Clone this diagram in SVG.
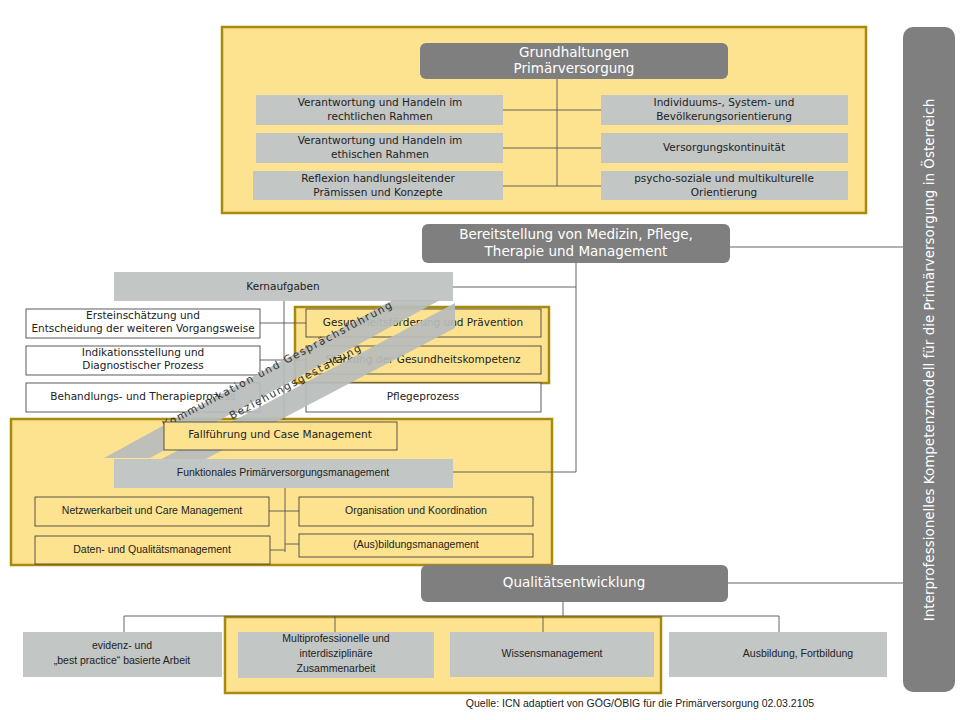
<svg xmlns="http://www.w3.org/2000/svg" width="960" height="720" viewBox="0 0 960 720">
<style>
text{font-family:"DejaVu Sans","Liberation Sans",sans-serif;font-size:10.5px;fill:#222;text-anchor:middle;dominant-baseline:middle}
.panel{fill:#FDE28F;stroke:#A88A0F;stroke-width:2.5}
.dk{fill:#7F7F7F}
.dkt{fill:#fff;font-size:13.5px}
.gr{fill:#C2C6C5}
.wb{fill:#fff;stroke:#333;stroke-width:0.8}
.yb{fill:#FDE28F;stroke:#333;stroke-width:0.8}
.ln{stroke:#555;stroke-width:0.9;fill:none}
.cond{font-family:"Liberation Sans",sans-serif;font-stretch:condensed}
</style>
<rect width="960" height="720" fill="#fff"/>
<g id="panels">
<rect class="panel" x="222" y="27" width="644" height="186"/>
<rect class="panel" x="295" y="307" width="254" height="76"/>
<rect class="panel" x="11" y="419" width="541" height="146"/>
<rect class="panel" x="225" y="617" width="436" height="76"/>
</g>
<g id="connectors">
<path class="ln" d="M557 79V186M503 110H601M503 148H601M503 186H601"/>
<path class="ln" d="M730 247H903M728 583H903"/>
<path class="ln" d="M576 263V472H453M453 287H576"/>
<path class="ln" d="M284 301V420M260 323H306M260 360H306"/>
<path class="ln" d="M285 488V552M269 511H299M270 550H285M285 544H299"/>
<path class="ln" d="M563 602V616M124 616H779M124 616V632M335 616V632M543 616V632M779 616V632"/>
</g>
<g id="grundhaltungen">
<rect class="dk" x="420" y="43" width="308" height="36" rx="6"/>
<text class="dkt" x="574" y="53">Grundhaltungen</text>
<text class="dkt" x="574" y="69">Primärversorgung</text>
</g>
<g id="g1"><rect class="gr" x="256" y="95" width="247" height="30"/><text x="380" y="103">Verantwortung und Handeln im</text><text x="380" y="117">rechtlichen Rahmen</text></g>
<g id="g2"><rect class="gr" x="256" y="133" width="247" height="30"/><text x="380" y="141">Verantwortung und Handeln im</text><text x="380" y="155">ethischen Rahmen</text></g>
<g id="g3"><rect class="gr" x="253" y="171" width="250" height="29"/><text x="378" y="179">Reflexion handlungsleitender</text><text x="378" y="193">Prämissen und Konzepte</text></g>
<g id="g4"><rect class="gr" x="601" y="95" width="247" height="30"/><text x="724" y="103">Individuums-, System- und</text><text x="724" y="117">Bevölkerungsorientierung</text></g>
<g id="g5"><rect class="gr" x="601" y="133" width="247" height="30"/><text x="724" y="148">Versorgungskontinuität</text></g>
<g id="g6"><rect class="gr" x="601" y="171" width="247" height="29"/><text x="724" y="179">psycho-soziale und multikulturelle</text><text x="724" y="193">Orientierung</text></g>
<g id="bereitstellung">
<rect class="dk" x="422" y="224" width="308" height="39" rx="6"/>
<text class="dkt" x="576" y="235">Bereitstellung von Medizin, Pflege,</text>
<text class="dkt" x="576" y="252">Therapie und Management</text>
</g>
<g id="sidebar">
<rect class="dk" x="903" y="27" width="52" height="665" rx="10"/>
<text class="dkt" font-size="14.5" transform="translate(930 360) rotate(-90)">Interprofessionelles Kompetenzmodell für die Primärversorgung in Österreich</text>
</g>
<g id="kernaufgaben"><rect class="gr" x="114" y="272" width="339" height="29"/><text x="283" y="287" font-size="12">Kernaufgaben</text></g>
<g id="k1"><rect class="wb" x="26" y="309" width="234" height="29"/><text x="143" y="316">Ersteinschätzung und</text><text x="143" y="329">Entscheidung der weiteren Vorgangsweise</text></g>
<g id="k2"><rect class="wb" x="26" y="346" width="234" height="29"/><text x="143" y="353">Indikationsstellung und</text><text x="143" y="366">Diagnostischer Prozess</text></g>
<g id="k3"><rect class="wb" x="26" y="383" width="234" height="29"/><text x="143" y="397">Behandlungs- und Therapieprozess</text></g>
<g id="k4"><rect class="yb" x="306" y="309" width="235" height="28"/><text x="423" y="323">Gesundheitsförderung und Prävention</text></g>
<g id="k5"><rect class="yb" x="306" y="346" width="235" height="28"/><text x="423" y="360">Stärkung der Gesundheitskompetenz</text></g>
<g id="k6"><rect class="wb" x="306" y="383" width="235" height="29"/><text x="423" y="397">Pflegeprozess</text></g>
<g id="bands" opacity="0.92">
<polygon fill="#B8BDBC" points="393,300 440,300 150,458 104,458"/>
<polygon fill="#B8BDBC" points="455,303 455,328 200,462 156,462"/>
<text font-size="10.5" letter-spacing="1.6" transform="translate(278 365) rotate(-28)">Kommunikation und Gesprächsführung</text>
<text font-size="10.5" letter-spacing="1.6" transform="translate(296 382) rotate(-28)">Beziehungsgestaltung</text>
</g>
<g id="fall"><rect class="yb" x="164" y="422" width="233" height="28"/><text x="280" y="435">Fallführung und Case Management</text></g>
<g id="funktional"><rect class="gr" x="114" y="459" width="339" height="29"/><text x="283" y="473" font-size="12.5" class="cond">Funktionales  Primärversorgungsmanagement</text></g>
<g id="f1"><rect class="yb" x="35" y="497" width="234" height="29"/><text x="152" y="511" class="cond">Netzwerkarbeit und Care Management</text></g>
<g id="f2"><rect class="yb" x="299" y="497" width="234" height="29"/><text x="416" y="511" class="cond">Organisation und Koordination</text></g>
<g id="f3"><rect class="yb" x="35" y="536" width="235" height="28"/><text x="152" y="550" class="cond">Daten- und Qualitätsmanagement</text></g>
<g id="f4"><rect class="yb" x="299" y="534" width="234" height="23"/><text x="416" y="545" class="cond">(Aus)bildungsmanagement</text></g>
<g id="qualitaet"><rect class="dk" x="421" y="565" width="307" height="37" rx="6"/><text class="dkt" x="574" y="583" font-size="14" font-family="Liberation Sans">Qualitätsentwicklung</text></g>
<g id="q1"><rect class="gr" x="23" y="632" width="199" height="45"/><text x="122" y="646" font-size="11.5" class="cond">evidenz- und</text><text x="122" y="661" font-size="11.5" class="cond">„best practice“ basierte Arbeit</text></g>
<g id="q2"><rect class="gr" x="238" y="632" width="196" height="46"/><text x="336" y="639" font-size="11.5" class="cond">Multiprofessionelle und</text><text x="336" y="654" font-size="11.5" class="cond">interdisziplinäre</text><text x="336" y="669" font-size="11.5" class="cond">Zusammenarbeit</text></g>
<g id="q3"><rect class="gr" x="450" y="632" width="204" height="45"/><text x="552" y="654" font-size="11.5" class="cond">Wissensmanagement</text></g>
<g id="q4"><rect class="gr" x="669" y="632" width="218" height="45"/><text x="798" y="654" font-size="11.5" class="cond">Ausbildung, Fortbildung</text></g>
<text x="640" y="704" font-size="12" fill="#555" font-family="Liberation Sans" class="cond">Quelle: ICN adaptiert von GÖG/ÖBIG für die Primärversorgung 02.03.2105</text>
</svg>
